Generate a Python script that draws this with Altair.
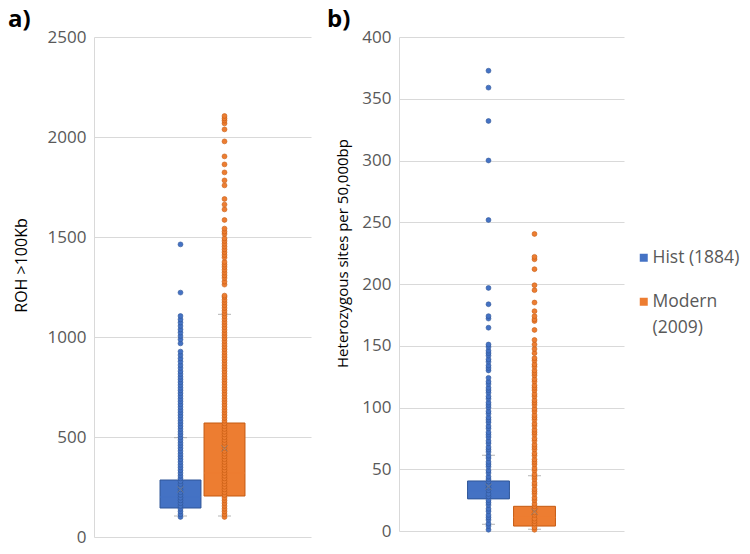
import altair as alt
import pandas as pd

FONT = "Open Sans"
groups = ["Hist (1884)", "Modern (2009)"]
fill_colors = ["#4472C4", "#ED7D31"]
dark_colors = ["#2F5597", "#C55A11"]
# empty slots either side of the two boxes (scale padding only)
x_slots = ["", groups[0], groups[1], " "]

# ---- panel a: ROH > 100Kb ----
roh_q1 = [145, 205]
roh_median = [200, 320]
roh_q3 = [285, 570]
roh_mean = [238, 443]
roh_low = [105, 105]
roh_high = [497, 1113]
roh_hist_points = [100, 114, 128, 141, 155, 169, 183, 196, 210, 224, 238, 251, 265, 279,
                   293, 306, 320, 334, 348, 361, 375, 389, 403, 416, 430, 444, 458, 471,
                   485, 499, 513, 526, 540, 554, 568, 581, 595, 609, 623, 636, 650, 664,
                   678, 691, 705, 719, 733, 746, 760, 774, 788, 801, 815, 829, 845, 860,
                   877, 893, 910, 927, 968, 988, 1005, 1022, 1038, 1055, 1072, 1088, 1105,
                   1222, 1463]
roh_modern_points = [100, 114, 128, 141, 155, 169, 183, 196, 210, 224, 238, 251, 265, 279,
                     293, 306, 320, 334, 348, 361, 375, 389, 403, 416, 430, 444, 458, 471,
                     485, 499, 513, 526, 540, 554, 568, 581, 595, 609, 623, 636, 650, 664,
                     678, 691, 705, 719, 733, 746, 760, 774, 788, 801, 815, 829, 843, 856,
                     870, 884, 898, 911, 925, 939, 953, 966, 980, 994, 1008, 1021, 1035,
                     1049, 1063, 1076, 1090, 1104, 1118, 1131, 1145, 1159, 1173, 1186, 1200,
                     1207, 1262, 1277, 1295, 1308, 1322, 1336, 1350, 1362, 1375, 1397, 1410,
                     1424, 1438, 1452, 1466, 1480, 1493, 1515, 1527, 1542, 1585, 1638, 1662,
                     1690, 1758, 1783, 1823, 1863, 1903, 1978, 2038, 2068, 2082, 2093, 2105]

# ---- panel b: heterozygous sites per 50,000bp ----
het_q1 = [26, 4]
het_median = [32.4, 11]
het_q3 = [40.5, 20]
het_mean = [35.9, 15.6]
het_low = [5.4, 1.4]
het_high = [61.3, 44.8]
het_hist_points = [1, 4, 6, 9, 11, 13, 16, 18, 21, 23, 25, 28, 30, 33, 35, 37, 40, 42, 44,
                   47, 49, 52, 54, 56, 59, 61, 64, 66, 68, 71, 73, 76, 78, 80, 83, 85, 88,
                   90, 92, 95, 97, 100, 102, 104, 107, 109, 112, 114, 116, 119, 121, 124,
                   130, 132, 134, 137, 139, 142, 144, 146, 149, 151, 164.6, 172, 174,
                   183.6, 196.8, 251.8, 300, 332, 359, 372.7]
het_modern_points = [1, 3, 6, 8, 10, 13, 15, 18, 20, 22, 25, 27, 30, 32, 34, 37, 39, 42,
                     44, 46, 49, 51, 54, 56, 58, 61, 63, 66, 68, 70, 73, 75, 78, 80, 82, 85,
                     87, 90, 92, 94, 97, 99, 102, 104, 106, 109, 111, 114, 116, 118, 121,
                     123, 126, 128, 130, 133, 135, 138, 140, 144, 147.4, 151, 154.7, 162.8,
                     170, 171.4, 174, 178, 185, 195, 199, 212, 220, 222, 240.5]

LABEL_EXPR = ("datum.label == 'Modern (2009)' ? ['Modern', '\u2002(2009)'] : datum.label")


def box_table(q1, med, q3, mean, low, high):
    return pd.DataFrame({"group": groups, "q1": q1, "median": med, "q3": q3,
                         "mean": mean, "low": low, "high": high})


def point_table(hist, modern):
    return pd.DataFrame({"group": [groups[0]] * len(hist) + [groups[1]] * len(modern),
                         "value": list(hist) + list(modern)})


def panel(boxes, points, ytitle, domain, step, width, height, pad_in, pad_out, bar_w,
          label, title_x, title_y, title_size, title_dx):
    xenc = alt.X("group:N", scale=alt.Scale(domain=x_slots, paddingInner=pad_in,
                                             paddingOuter=pad_out), axis=None)
    yscale = alt.Scale(domain=domain, nice=False)
    yaxis = alt.Axis(title=ytitle, values=list(range(domain[0], domain[1] + 1, step)),
                     format="d",
                     grid=True, gridColor="#D9D9D9", gridWidth=1, domain=True,
                     domainColor="#D9D9D9", ticks=False, labelColor="#595959",
                     labelFont=FONT, labelFontSize=17, labelPadding=8,
                     titleFont=FONT, titleFontSize=title_size, titleFontWeight="normal",
                     titleColor="#000000", titleX=title_x, titleY=title_y,
                     titleAlign="center", titleBaseline="middle", titleAngle=-90)
    color = alt.Color("group:N", scale=alt.Scale(domain=groups, range=fill_colors),
                      legend=alt.Legend(title=None, labelExpr=LABEL_EXPR))
    stroke = alt.Stroke("group:N", scale=alt.Scale(domain=groups, range=dark_colors),
                        legend=None)
    color_nl = alt.Color("group:N", scale=alt.Scale(domain=groups, range=fill_colors),
                         legend=None)

    bb = alt.Chart(boxes)
    whisk_hi = bb.mark_rule(color="#A6A6A6", strokeWidth=1).encode(
        x=xenc, y=alt.Y("q3:Q", scale=yscale, axis=yaxis), y2="high:Q")
    whisk_lo = bb.mark_rule(color="#A6A6A6", strokeWidth=1).encode(
        x=xenc, y=alt.Y("low:Q", scale=yscale), y2="q1:Q")
    box = bb.mark_bar(strokeWidth=1, opacity=1).encode(
        x=xenc, y=alt.Y("q1:Q", scale=yscale), y2="q3:Q", color=color, stroke=stroke)
    med = bb.mark_tick(thickness=1.2, size=bar_w, opacity=0.9).encode(
        x=xenc, y=alt.Y("median:Q", scale=yscale), color=alt.Color(
            "group:N", scale=alt.Scale(domain=groups, range=dark_colors), legend=None))
    caps = bb.transform_fold(["low", "high"], as_=["end", "v"]).mark_tick(
        color="#A6A6A6", thickness=1.2, size=13).encode(
        x=xenc, y=alt.Y("v:Q", scale=yscale))
    dots = alt.Chart(points).mark_circle(size=24, opacity=1, strokeWidth=0.6).encode(
        x=xenc, y=alt.Y("value:Q", scale=yscale), color=color_nl, stroke=stroke)
    mean = bb.mark_point(shape="M-1,-1L1,1M-1,1L1,-1", size=40, filled=False,
                         strokeWidth=1, color="#7F7F7F").encode(
        x=xenc, y=alt.Y("mean:Q", scale=yscale))

    return alt.layer(whisk_hi, whisk_lo, box, med, caps, dots, mean).properties(
        width=width, height=height,
        title=alt.TitleParams(label, anchor="start", frame="bounds", font=FONT,
                              fontSize=24, fontWeight="bold", color="#000000",
                              offset=-4, dx=title_dx))


chart_a = panel(box_table(roh_q1, roh_median, roh_q3, roh_mean, roh_low, roh_high),
                point_table(roh_hist_points, roh_modern_points),
                "ROH >100Kb", [0, 2500], 500, 217, 500, 0.07, 0.5, 41,
                "a)", -73, 228, 16, -5)
chart_b = panel(box_table(het_q1, het_median, het_q3, het_mean, het_low, het_high),
                point_table(het_hist_points, het_modern_points),
                "Heterozygous sites per 50,000bp", [0, 400], 50, 225, 494, 0.09, 0.49, 42,
                "b)", -57, 216, 15, -8)

chart = alt.hconcat(chart_a, chart_b, spacing=16).resolve_scale(
    color="shared", stroke="independent").properties(
    padding={"left": 0, "top": 0, "right": 0, "bottom": 0}
).configure(
    style={"guide-label": {"lineHeight": 26}}
).configure_view(stroke=None).configure_legend(
    orient="none", legendX=541, legendY=212, symbolType="square", symbolSize=64,
    symbolStrokeWidth=0, labelFont=FONT, labelFontSize=17.5, labelColor="#595959",
    rowPadding=25, labelOffset=0, labelLimit=200
)

chart.save("out.html", embed_options={"renderer": "svg", "actions": False})
